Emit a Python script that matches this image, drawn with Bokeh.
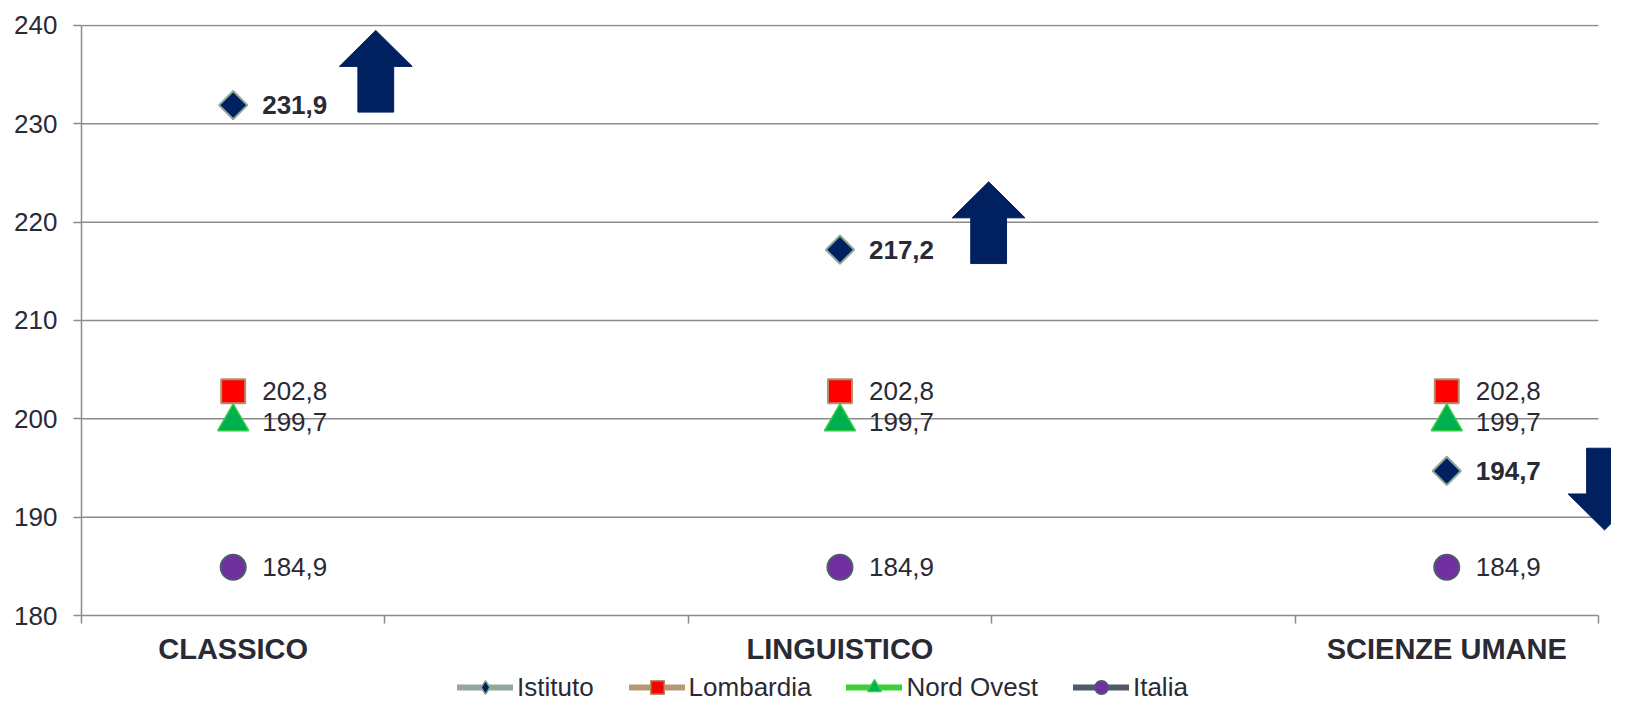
import numpy as np
from bokeh.plotting import figure
from bokeh.layouts import column
from bokeh.models import Range1d, FixedTicker, Legend, LegendItem
from bokeh.core.properties import value
from bokeh.embed import file_html
from bokeh.resources import INLINE

# ---------------- data ----------------
categories = ["CLASSICO", "LINGUISTICO", "SCIENZE UMANE"]
istituto = [231.9, 217.2, 194.7]
lombardia = [202.8, 202.8, 202.8]
nord_ovest = [199.7, 199.7, 199.7]
italia = [184.9, 184.9, 184.9]
y_ticks = [180, 190, 200, 210, 220, 230, 240]
series_names = ["Istituto", "Lombardia", "Nord Ovest", "Italia"]

# decorative arrows (position in axis units, tip value, direction)
arrow_x = [0.97, 2.99, 5.02]
arrow_tip = [239.5, 224.1, 188.7]
arrow_dir = [1, 1, -1]

# ---------------- layout helpers ----------------
cat_x = [2 * i + 0.5 for i in range(len(categories))]
slot_edges = list(range(2 * len(categories)))
x_end = slot_edges[-1]

TEXT = "#2a2a35"
GRID = "#8c8c8c"
FONT = "Liberation Sans"
W = 1611


def fmt(v):
    return f"{v:.1f}".replace(".", ",")


p = figure(width=W, height=670, output_backend="svg", toolbar_location=None,
           title=None,
           x_range=Range1d(0, 5.043), y_range=Range1d(180, 240.1),
           min_border_left=81, min_border_right=0, min_border_top=24,
           min_border_bottom=55)
p.outline_line_color = None
p.grid.visible = False
p.background_fill_color = "white"

# gridlines (bounded to the category slots)
p.segment(x0=0, x1=x_end, y0=y_ticks[1:], y1=y_ticks[1:], line_color=GRID,
          line_width=1.5)

# y axis
ya = p.yaxis[0]
ya.ticker = FixedTicker(ticks=y_ticks)
ya.bounds = (y_ticks[0], y_ticks[-1])
ya.major_tick_out = 8
ya.major_tick_in = 0
ya.minor_tick_out = 0
ya.minor_tick_in = 0
ya.axis_line_color = GRID
ya.axis_line_width = 1.5
ya.major_tick_line_color = GRID
ya.major_tick_line_width = 1.5
ya.major_label_text_font = FONT
ya.major_label_text_font_size = "26px"
ya.major_label_text_color = TEXT
ya.major_label_standoff = 16

# x axis
xa = p.xaxis[0]
xa.ticker = FixedTicker(ticks=cat_x, minor_ticks=slot_edges)
xa.bounds = (0, x_end)
xa.major_tick_out = 0
xa.major_tick_in = 0
xa.minor_tick_out = 8
xa.minor_tick_in = 0
xa.axis_line_color = GRID
xa.axis_line_width = 1.5
xa.minor_tick_line_color = GRID
xa.minor_tick_line_width = 1.5
xa.major_label_overrides = {x: c for x, c in zip(cat_x, categories)}
xa.major_label_text_font = FONT
xa.major_label_text_font_style = "bold"
xa.major_label_text_font_size = "29px"
xa.major_label_text_color = TEXT
xa.major_label_standoff = 9

# arrows
HH, SL, HW, SW = 3.66, 4.65, 0.12, 0.059
xs, ys = [], []
for ax, tip, d in zip(arrow_x, arrow_tip, arrow_dir):
    b = tip - d * HH
    e = b - d * SL
    xs.append([ax, ax + HW, ax + SW, ax + SW, ax - SW, ax - SW, ax - HW])
    ys.append([tip, b, b, e, e, b, b])
p.patches(xs, ys, fill_color="#002060", line_color="#002060", line_width=1)

# series styles
styles = [
    dict(marker="square", angle=np.pi / 4, size=20, fill="#002060", edge="#8fa89a",
         line="#93a89b", ew=2, lmarker="diamond"),
    dict(marker="square", angle=0, size=24, fill="#ff0000", edge="#b0916a",
         line="#b49a72", ew=2, lmarker="square"),
    dict(marker="triangle", angle=0, size=31, fill="#00b050", edge="#33cc44",
         line="#3ccf3c", ew=1.5, lmarker="triangle"),
    dict(marker="circle", angle=0, size=25, fill="#7030a0", edge="#4f5b6b",
         line="#4f5b6b", ew=2, lmarker="circle"),
]
series = [istituto, lombardia, nord_ovest, italia]

for vals, st in zip(series, styles):
    p.scatter(cat_x, vals, marker=st["marker"], angle=st["angle"], size=st["size"],
              fill_color=st["fill"], line_color=st["edge"], line_width=st["ew"])

for i, (vals, st) in enumerate(zip(series, styles)):
    p.text(x=cat_x, y=vals, text=[fmt(v) for v in vals], x_offset=29,
           text_baseline="middle", text_align="left",
           text_font=value(FONT), text_font_size="26px",
           text_font_style="bold" if i == 0 else "normal", text_color=TEXT)

# ---------------- legend strip ----------------
lg = figure(width=W, height=31, output_backend="svg", toolbar_location=None,
            title=None, x_range=Range1d(0, 1), y_range=Range1d(0, 1),
            min_border=0)
lg.axis.visible = False
lg.grid.visible = False
lg.outline_line_color = None

items = []
for name, st in zip(series_names, styles):
    # renderers kept outside the visible range: only their legend glyphs show
    lr = lg.line(x=[5, 6], y=[5, 5], line_color=st["line"], line_width=6,
                 line_cap="round")
    mr = lg.scatter(x=[5], y=[5], marker=st["lmarker"],
                    fill_color=st["fill"], line_color=st["edge"], line_width=1.5)
    items.append(LegendItem(label=name, renderers=[lr, mr]))

legend = Legend(items=items, orientation="horizontal", location=(376, -3),
                glyph_width=56, glyph_height=34, label_height=34,
                label_standoff=4, spacing=35, padding=0, margin=0,
                border_line_alpha=0, background_fill_alpha=0,
                label_text_font=FONT, label_text_font_size="26px",
                label_text_color=TEXT, label_text_baseline="middle")
lg.add_layout(legend, "center")

layout = column(p, lg, spacing=0)
open("out.html", "w").write(file_html(layout, INLINE))
